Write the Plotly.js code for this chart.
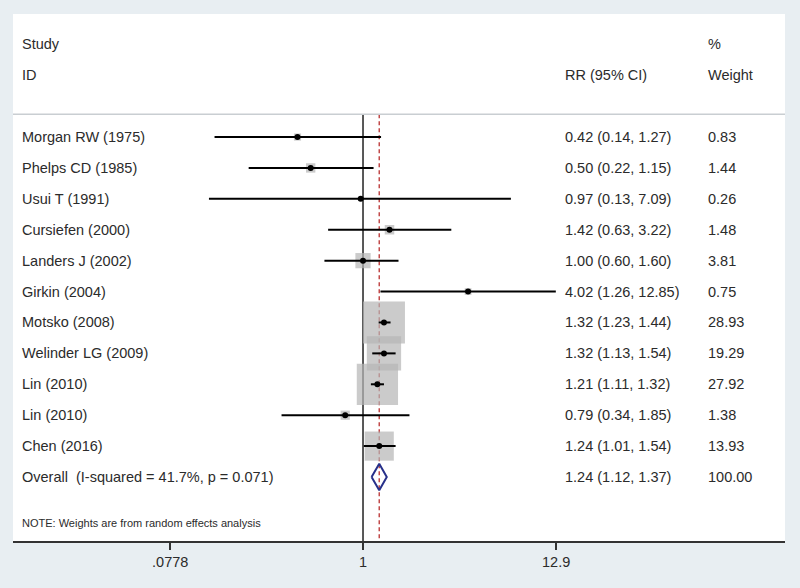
<!DOCTYPE html>
<html>
<head>
<meta charset="utf-8">
<script src="https://cdn.plot.ly/plotly-3.0.1.min.js"></script>
<style>html,body{margin:0;padding:0;background:#e8eef2;}</style>
</head>
<body>
<div id="chart" style="width:800px;height:588px;"></div>
<script>
// ---- data ----
const studies = ["Morgan RW (1975)", "Phelps CD (1985)", "Usui T (1991)", "Cursiefen (2000)", "Landers J (2002)", "Girkin (2004)", "Motsko (2008)", "Welinder LG (2009)", "Lin (2010)", "Lin (2010)", "Chen (2016)"];
const rr     = [0.42, 0.50, 0.97, 1.42, 1.00, 4.02, 1.32, 1.32, 1.21, 0.79, 1.24];
const ciLow  = [0.14, 0.22, 0.13, 0.63, 0.60, 1.26, 1.23, 1.13, 1.11, 0.34, 1.01];
const ciHigh = [1.27, 1.15, 7.09, 3.22, 1.60, 12.85, 1.44, 1.54, 1.32, 1.85, 1.54];
const weight = [0.83, 1.44, 0.26, 1.48, 3.81, 0.75, 28.93, 19.29, 27.92, 1.38, 13.93];
const overallLabel = "Overall\u00a0 (I-squared = 41.7%, p = 0.071)";
const overallRR = 1.24, overallLow = 1.12, overallHigh = 1.37, overallWeight = 100.00;
const tickVals = [0.0778, 1, 12.9];
const tickText = [".0778", "1", "12.9"];
const headerStudy = ["Study", "ID"];
const headerRR = "RR (95% CI)";
const headerWeight = ["%", "Weight"];
const noteText = "NOTE: Weights are from random effects analysis";

// ---- layout helpers ----
const W = 800, H = 588;
const mL = 13, mR = 15, mT = 14, mB = 47;
const plotW = W - mL - mR;
const FONT = "Liberation Sans, Arial, sans-serif";
const TXT = "#2b2b2b";
const rows = studies.map((_, i) => i);
const overallRow = studies.length;
const yTop = -3.98, yBot = 13.07;
const headerLineRow = -0.74;

function px2paper(px) { return (px - mL) / plotW; }
function txt(px, row, text, size) {
  return {xref: "paper", x: px2paper(px), yref: "y", y: row, text: text, showarrow: false,
          xanchor: "left", yanchor: "middle", borderpad: 0,
          font: {family: FONT, size: size || 14.5, color: TXT}};
}
const fmt = v => v.toFixed(2);

const annotations = [];
annotations.push(txt(21, -3, headerStudy[0]));
annotations.push(txt(21, -2, headerStudy[1]));
annotations.push(txt(564, -2, headerRR));
annotations.push(txt(707, -3, headerWeight[0]));
annotations.push(txt(707, -2, headerWeight[1]));
studies.forEach((s, i) => {
  annotations.push(txt(21, i, s));
  annotations.push(txt(564, i, fmt(rr[i]) + " (" + fmt(ciLow[i]) + ", " + fmt(ciHigh[i]) + ")"));
  annotations.push(txt(707, i, fmt(weight[i])));
});
annotations.push(txt(21, overallRow, overallLabel));
annotations.push(txt(564, overallRow, fmt(overallRR) + " (" + fmt(overallLow) + ", " + fmt(overallHigh) + ")"));
annotations.push(txt(707, overallRow, fmt(overallWeight)));
annotations.push(txt(21, 12.49, noteText, 11));

// ---- traces ----
const traces = [];
// reference line at 1
traces.push({x: [1, 1], y: [headerLineRow, yBot], mode: "lines", type: "scatter",
  line: {color: "#222222", width: 1.5}, hoverinfo: "skip", showlegend: false});
// overall dashed line
traces.push({x: [overallRR, overallRR], y: [headerLineRow, yBot], mode: "lines", type: "scatter",
  line: {color: "#c24a4a", width: 1.5, dash: "4px,3px"}, hoverinfo: "skip", showlegend: false});
// weight squares
traces.push({x: rr, y: rows, mode: "markers", type: "scatter",
  marker: {symbol: "square", color: "#b5b5b5", size: weight.map(w => 7.81 * Math.sqrt(w)), line: {width: 0}},
  hoverinfo: "skip", showlegend: false});
// CI lines + point estimates
traces.push({x: rr, y: rows, mode: "markers", type: "scatter",
  marker: {symbol: "circle", color: "#000000", size: 6},
  error_x: {type: "data", symmetric: false,
    array: rr.map((v, i) => ciHigh[i] - v), arrayminus: rr.map((v, i) => v - ciLow[i]),
    color: "#000000", thickness: 2, width: 0},
  hoverinfo: "skip", showlegend: false});
// overall diamond
const dh = 0.43;
traces.push({x: [overallLow, overallRR, overallHigh, overallRR, overallLow],
  y: [overallRow, overallRow - dh, overallRow, overallRow + dh, overallRow],
  mode: "lines", type: "scatter", line: {color: "#27308a", width: 2},
  hoverinfo: "skip", showlegend: false});

const layout = {
  width: W, height: H,
  margin: {l: mL, r: mR, t: mT, b: mB},
  paper_bgcolor: "#e8eef2", plot_bgcolor: "#ffffff",
  showlegend: false,
  xaxis: {type: "log", range: [-2.013, 2.427], tickvals: tickVals, ticktext: tickText,
    ticks: "outside", ticklen: 7, tickwidth: 1.5, tickcolor: "#333333",
    showline: true, linecolor: "#333333", linewidth: 2, mirror: false,
    showgrid: false, zeroline: false, ticklabelstandoff: 0,
    tickfont: {family: FONT, size: 14.5, color: TXT}, fixedrange: true},
  yaxis: {range: [yBot, yTop], visible: false, showgrid: false, zeroline: false, fixedrange: true},
  shapes: [{type: "line", xref: "paper", x0: 0, x1: 1, yref: "y", y0: headerLineRow, y1: headerLineRow,
    line: {color: "#c9ced2", width: 1.5}}],
  annotations: annotations
};

Plotly.newPlot("chart", traces, layout, {displayModeBar: false, staticPlot: true});
</script>
</body>
</html>
